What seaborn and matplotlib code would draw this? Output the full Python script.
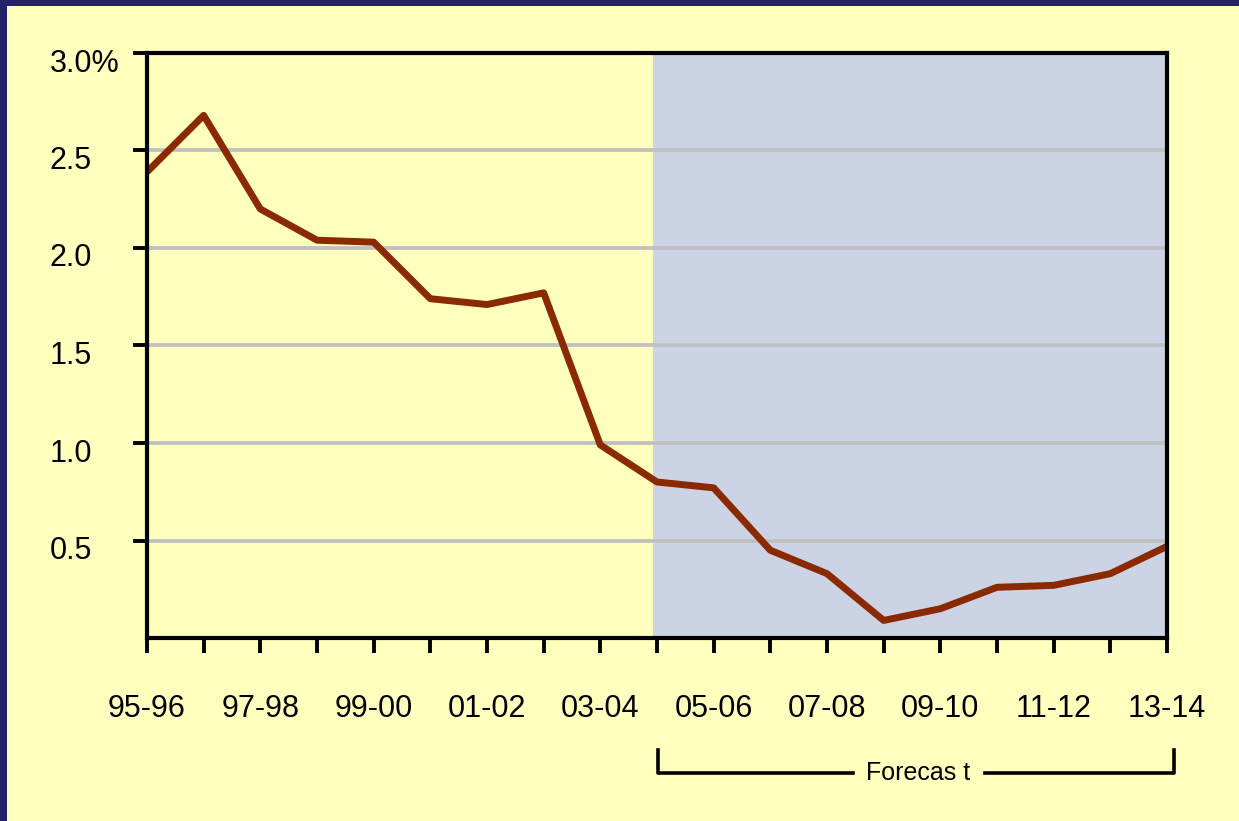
import numpy as np
import pandas as pd
import matplotlib
matplotlib.use("Agg")
import matplotlib.pyplot as plt
import matplotlib.transforms as mtransforms
from matplotlib.patches import Rectangle
from matplotlib.lines import Line2D
import seaborn as sns

years = ["95-96", "96-97", "97-98", "98-99", "99-00", "00-01", "01-02", "02-03",
         "03-04", "04-05", "05-06", "06-07", "07-08", "08-09", "09-10", "10-11",
         "11-12", "12-13", "13-14"]
values = [2.39, 2.68, 2.20, 2.04, 2.03, 1.74, 1.71, 1.77, 0.99, 0.80, 0.77,
          0.45, 0.33, 0.09, 0.15, 0.26, 0.27, 0.33, 0.47]
y_ticks = [0.5, 1.0, 1.5, 2.0, 2.5, 3.0]
y_labels = ["0.5", "1.0", "1.5", "2.0", "2.5", "3.0%"]
forecast_start = "04-05"

sns.set_theme(style="white")
plt.rcParams['font.family'] = ['Liberation Sans', 'DejaVu Sans']

BG = "#FFFFBE"
SHADE = "#CBD3E5"
LINE = "#8B2A00"
NAVY = "#25216A"

fig = plt.figure(figsize=(12.39, 8.21), dpi=100, facecolor=BG)
ax = fig.add_axes([147/1239, 1-638/821, (1167-147)/1239, (638-53)/821])
ax.set_facecolor(BG)

df = pd.DataFrame({"pos": np.arange(len(years)), "value": values})
fs = years.index(forecast_start)
ax.axvspan(fs - 0.07, len(years) - 1, color=SHADE, zorder=0, lw=0)
for yv in y_ticks[:-1]:
    ax.axhline(yv, color="#C0C0C0", lw=2.7, zorder=1)

sns.lineplot(data=df, x="pos", y="value", color=LINE, lw=5.0, ax=ax,
             zorder=3, solid_joinstyle="round", solid_capstyle="butt")

ax.set_xlim(0, len(years) - 1)
ax.set_ylim(0, 3.0)
ax.set_xlabel("")
ax.set_ylabel("")

ax.set_xticks(np.arange(len(years)))
ax.set_xticklabels([y if i % 2 == 0 else "" for i, y in enumerate(years)], fontsize=22)
ax.set_yticks(y_ticks)
ax.set_yticklabels(y_labels, fontsize=22)

for s in ax.spines.values():
    s.set_color("black")
    s.set_linewidth(3.0)
    s.set_visible(True)
    s.set_zorder(4)

ax.tick_params(axis="x", direction="out", length=11, width=2.8, color="black",
               pad=29, labelcolor="black", bottom=True)
ax.tick_params(axis="y", direction="out", length=10, width=2.8, color="black",
               pad=60, labelcolor="black", left=True)
offset = mtransforms.ScaledTranslation(0, -0.07, fig.dpi_scale_trans)
for lab in ax.get_yticklabels():
    lab.set_horizontalalignment("left")
    lab.set_transform(lab.get_transform() + offset)

# Forecast bracket
bx0, bx1 = 658/1239, 1174/1239
by_top, by_bot = 1-750/821, 1-773/821
kw = dict(color="black", lw=2.6, transform=fig.transFigure, solid_capstyle="projecting")
fig.add_artist(Line2D([bx0, bx0, 853/1239], [by_top, by_bot, by_bot], **kw))
fig.add_artist(Line2D([985/1239, bx1, bx1], [by_bot, by_bot, by_top], **kw))
fig.text(918/1239, by_bot, "Forecas t", ha="center", va="center", fontsize=18,
         color="black")

# navy frame (top and left)
fig.add_artist(Rectangle((0, 1-6/821), 1, 6/821, transform=fig.transFigure,
                         color=NAVY, lw=0, zorder=10))
fig.add_artist(Rectangle((0, 0), 7/1239, 1, transform=fig.transFigure,
                         color=NAVY, lw=0, zorder=10))

fig.savefig("out.png", dpi=100, facecolor=BG)
